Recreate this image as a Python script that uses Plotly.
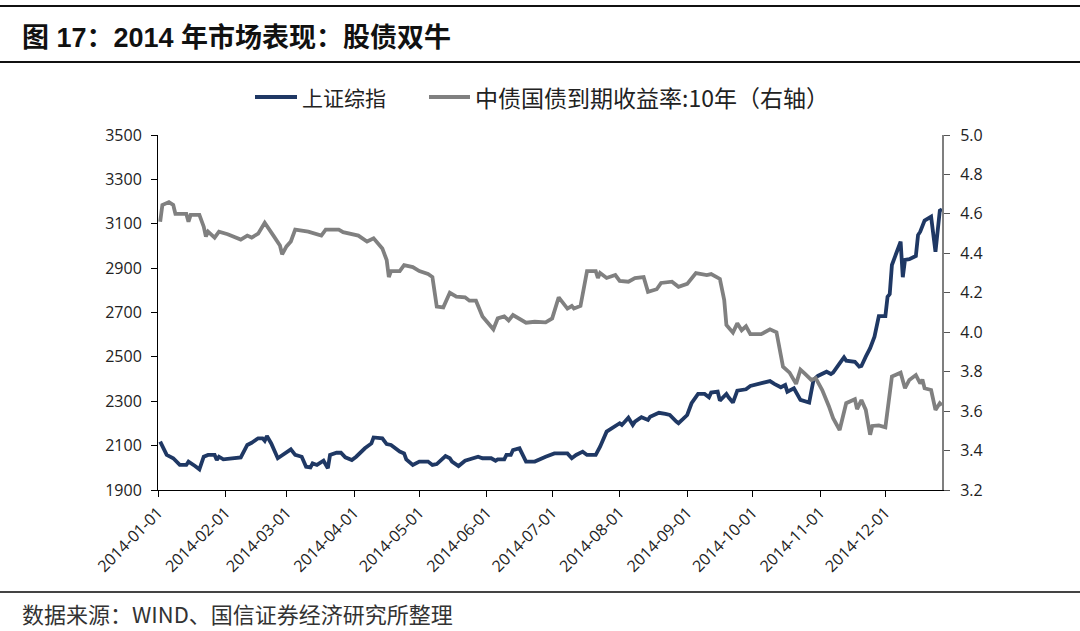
import plotly.graph_objects as go

# ---- data ----
sh_dates = ["2014-01-02","2014-01-03","2014-01-05","2014-01-08","2014-01-11","2014-01-14","2014-01-15","2014-01-18",
            "2014-01-20","2014-01-22","2014-01-24","2014-01-27","2014-01-28","2014-01-29","2014-01-31","2014-02-08",
            "2014-02-11","2014-02-13","2014-02-16","2014-02-18","2014-02-19","2014-02-20","2014-02-22","2014-02-25",
            "2014-02-28","2014-03-03","2014-03-05","2014-03-08","2014-03-10","2014-03-12","2014-03-13","2014-03-15",
            "2014-03-18","2014-03-20","2014-03-21","2014-03-24","2014-03-26","2014-03-28","2014-03-31","2014-04-02",
            "2014-04-06","2014-04-09","2014-04-10","2014-04-14","2014-04-16","2014-04-18","2014-04-22","2014-04-24",
            "2014-04-25","2014-04-28","2014-05-01","2014-05-05","2014-05-07","2014-05-09","2014-05-13","2014-05-15",
            "2014-05-16","2014-05-19","2014-05-22","2014-05-26","2014-05-28","2014-05-30","2014-06-03","2014-06-05",
            "2014-06-06","2014-06-09","2014-06-10","2014-06-12","2014-06-13","2014-06-16","2014-06-19","2014-06-23",
            "2014-06-25","2014-06-28","2014-07-02","2014-07-08","2014-07-10","2014-07-12","2014-07-15","2014-07-17",
            "2014-07-21","2014-07-23","2014-07-26","2014-07-29","2014-07-30","2014-08-01","2014-08-02","2014-08-05",
            "2014-08-07","2014-08-08","2014-08-11","2014-08-14","2014-08-15","2014-08-19","2014-08-22","2014-08-24",
            "2014-08-27","2014-08-28","2014-08-30","2014-09-01","2014-09-03","2014-09-06","2014-09-09","2014-09-11",
            "2014-09-12","2014-09-15","2014-09-16","2014-09-19","2014-09-20","2014-09-22","2014-09-24","2014-09-28",
            "2014-09-30","2014-10-04","2014-10-09","2014-10-11","2014-10-14","2014-10-16","2014-10-17","2014-10-20",
            "2014-10-23","2014-10-27","2014-10-29","2014-10-31","2014-11-04","2014-11-06","2014-11-07","2014-11-10",
            "2014-11-12","2014-11-13","2014-11-17","2014-11-19","2014-11-20","2014-11-22","2014-11-24","2014-11-26",
            "2014-11-27","2014-11-28","2014-12-01","2014-12-02","2014-12-03","2014-12-04","2014-12-06","2014-12-08",
            "2014-12-09","2014-12-10","2014-12-12","2014-12-15","2014-12-16","2014-12-17","2014-12-19","2014-12-22",
            "2014-12-24","2014-12-26","2014-12-27"]
sh_index = [2118,2095,2058,2043,2013,2013,2028,2008,
            1993,2050,2058,2058,2035,2050,2038,2047,
            2103,2113,2133,2133,2122,2143,2110,2043,
            2065,2083,2058,2050,2005,2002,2020,2013,
            2032,1998,2058,2068,2068,2047,2035,2050,
            2088,2110,2137,2133,2107,2103,2073,2065,
            2038,2013,2028,2028,2013,2017,2053,2043,
            2028,2008,2032,2043,2050,2043,2043,2032,
            2038,2038,2058,2058,2080,2088,2028,2028,
            2038,2050,2065,2065,2043,2058,2073,2058,
            2058,2095,2163,2183,2185,2201,2193,2226,
            2193,2208,2228,2216,2230,2248,2243,2238,
            2208,2201,2219,2238,2291,2333,2333,2318,
            2339,2343,2303,2333,2318,2294,2348,2354,
            2369,2378,2391,2378,2363,2373,2343,2358,
            2306,2294,2396,2414,2433,2423,2429,2471,
            2498,2483,2478,2456,2459,2501,2539,2591,
            2644,2684,2684,2771,2783,2914,2967,3019,
            2859,2937,2940,2955,3049,3064,3114,3132,
            2974,3159,3165]

bond_dates = ["2014-01-02","2014-01-03","2014-01-06","2014-01-08","2014-01-09","2014-01-14","2014-01-15","2014-01-16",
              "2014-01-20","2014-01-22","2014-01-23","2014-01-24","2014-01-27","2014-01-29","2014-02-02","2014-02-08",
              "2014-02-11","2014-02-13","2014-02-16","2014-02-19","2014-02-23","2014-02-26","2014-02-27","2014-03-01",
              "2014-03-03","2014-03-05","2014-03-11","2014-03-17","2014-03-19","2014-03-25","2014-03-27","2014-04-03",
              "2014-04-07","2014-04-10","2014-04-14","2014-04-16","2014-04-17","2014-04-18","2014-04-22","2014-04-24",
              "2014-04-28","2014-05-01","2014-05-05","2014-05-07","2014-05-09","2014-05-12","2014-05-15","2014-05-18",
              "2014-05-22","2014-05-24","2014-05-27","2014-05-30","2014-06-04","2014-06-06","2014-06-09","2014-06-11",
              "2014-06-13","2014-06-19","2014-06-23","2014-06-28","2014-07-01","2014-07-04","2014-07-08","2014-07-10",
              "2014-07-11","2014-07-14","2014-07-17","2014-07-21","2014-07-22","2014-07-23","2014-07-26","2014-07-30",
              "2014-08-01","2014-08-05","2014-08-08","2014-08-12","2014-08-14","2014-08-18","2014-08-20","2014-08-25",
              "2014-08-28","2014-09-01","2014-09-05","2014-09-10","2014-09-12","2014-09-16","2014-09-18","2014-09-19",
              "2014-09-22","2014-09-24","2014-09-26","2014-09-28","2014-09-30","2014-10-05","2014-10-09","2014-10-12",
              "2014-10-15","2014-10-18","2014-10-21","2014-10-23","2014-10-25","2014-10-28","2014-10-30","2014-11-02",
              "2014-11-05","2014-11-07","2014-11-10","2014-11-13","2014-11-17","2014-11-18","2014-11-20","2014-11-22",
              "2014-11-24","2014-11-25","2014-11-28","2014-12-01","2014-12-04","2014-12-08","2014-12-10","2014-12-12",
              "2014-12-15","2014-12-17","2014-12-18","2014-12-19","2014-12-22","2014-12-24","2014-12-26","2014-12-27"]
bond_yield = [4.56,4.645,4.66,4.645,4.60,4.60,4.56,4.595,
              4.595,4.535,4.485,4.51,4.48,4.51,4.497,4.47,
              4.49,4.48,4.50,4.555,4.49,4.44,4.395,4.435,
              4.46,4.52,4.51,4.49,4.52,4.52,4.507,4.49,
              4.46,4.476,4.425,4.366,4.28,4.31,4.31,4.34,
              4.33,4.31,4.295,4.28,4.13,4.126,4.20,4.18,
              4.177,4.16,4.16,4.08,4.015,4.07,4.08,4.06,
              4.087,4.048,4.053,4.05,4.07,4.177,4.12,4.133,
              4.12,4.133,4.31,4.31,4.275,4.30,4.275,4.29,
              4.26,4.256,4.275,4.28,4.205,4.218,4.25,4.256,
              4.23,4.245,4.30,4.29,4.295,4.27,4.163,4.037,
              3.998,4.045,4.01,4.03,3.99,3.99,4.015,4.00,
              3.825,3.795,3.738,3.81,3.79,3.758,3.767,3.707,
              3.626,3.564,3.504,3.64,3.66,3.61,3.656,3.606,
              3.48,3.525,3.528,3.518,3.775,3.795,3.716,3.758,
              3.783,3.74,3.76,3.716,3.707,3.606,3.64,3.63]

month_ticks = ["2014-01-01","2014-02-01","2014-03-01","2014-04-01","2014-05-01","2014-06-01",
               "2014-07-01","2014-08-01","2014-09-01","2014-10-01","2014-11-01","2014-12-01"]
left_ticks = [1900, 2100, 2300, 2500, 2700, 2900, 3100, 3300, 3500]
right_ticks = [3.2, 3.4, 3.6, 3.8, 4.0, 4.2, 4.4, 4.6, 4.8, 5.0]

name_sh = "上证综指"
name_bond = "中债国债到期收益率:10年（右轴）"
title_text = "<b>图 17：2014 年市场表现：股债双牛</b>"
source_text = "数据来源：WIND、国信证券经济研究所整理"

BLUE = "#1f3864"
GRAY = "#808080"
CJK = "Noto Sans CJK SC"
TICKF = "Open Sans"

# ---- figure ----
W, H = 1080, 631
L, R, T, B = 158, 138, 135, 141
pw, ph = W - L - R, H - T - B

def px(xp):
    return (xp - L) / pw

def py(yp):
    return (H - B - yp) / ph

fig = go.Figure()
fig.add_trace(go.Scatter(x=sh_dates, y=sh_index, mode="lines", name=name_sh,
                         line=dict(color=BLUE, width=3.8), yaxis="y"))
fig.add_trace(go.Scatter(x=bond_dates, y=bond_yield, mode="lines", name=name_bond,
                         line=dict(color=GRAY, width=3.8), yaxis="y2"))

tickfont = dict(family=TICKF, size=16, color="#222222")
fig.update_layout(
    width=W, height=H,
    margin=dict(l=L, r=R, t=T, b=B, pad=0),
    paper_bgcolor="white", plot_bgcolor="white",
    showlegend=False,
    title=dict(text=title_text, x=22 / W, xanchor="left", xref="container",
               y=1 - 38 / H, yanchor="middle", yref="container",
               font=dict(family="Liberation Sans, " + CJK, size=27, color="#111111")),
    xaxis=dict(type="date", range=["2014-01-01", "2014-12-27"],
               tickvals=month_ticks, ticktext=month_ticks, tickangle=-45,
               showgrid=False, zeroline=False,
               showline=True, linecolor="#000000", linewidth=1,
               ticks="outside", ticklen=6, tickcolor="#000000",
               tickfont=tickfont),
    yaxis=dict(range=[1900, 3500], tickvals=left_ticks, showgrid=False, zeroline=False,
               showline=True, linecolor="#000000", linewidth=1,
               ticks="outside", ticklen=6, tickcolor="#000000",
               ticklabelstandoff=6, tickfont=tickfont),
    yaxis2=dict(range=[3.2, 5.0], tickvals=right_ticks, tickformat=".1f",
                overlaying="y", side="right", showgrid=False, zeroline=False,
                showline=True, linecolor="#7f7f7f", linewidth=2,
                ticks="outside", ticklen=6, tickcolor="#555555",
                ticklabelstandoff=7, tickfont=tickfont),
)

# header / footer rules and legend swatches (layout decoration)
shapes = [
    dict(type="line", xref="paper", yref="paper", x0=px(0), x1=px(W), y0=py(6), y1=py(6),
         line=dict(color="#111111", width=2)),
    dict(type="line", xref="paper", yref="paper", x0=px(0), x1=px(W), y0=py(62), y1=py(62),
         line=dict(color="#111111", width=2)),
    dict(type="line", xref="paper", yref="paper", x0=px(0), x1=px(W), y0=py(592), y1=py(592),
         line=dict(color="#444444", width=2)),
    dict(type="line", xref="paper", yref="paper", x0=px(255), x1=px(297), y0=py(97), y1=py(97),
         line=dict(color=BLUE, width=4)),
    dict(type="line", xref="paper", yref="paper", x0=px(429), x1=px(470), y0=py(97), y1=py(97),
         line=dict(color=GRAY, width=4)),
]
fig.update_layout(shapes=shapes)

fig.add_annotation(text=name_sh, xref="paper", yref="paper", x=px(300), y=py(97),
                   xanchor="left", yanchor="middle", showarrow=False,
                   font=dict(family=CJK, size=21, color="#222222"))
fig.add_annotation(text=name_bond, xref="paper", yref="paper", x=px(473), y=py(97),
                   xanchor="left", yanchor="middle", showarrow=False,
                   font=dict(family=CJK, size=23, color="#222222"))
fig.add_annotation(text=source_text, xref="paper", yref="paper", x=px(20), y=py(613),
                   xanchor="left", yanchor="middle", showarrow=False,
                   font=dict(family=CJK, size=22, color="#333333"))

fig.write_html("out.html")
